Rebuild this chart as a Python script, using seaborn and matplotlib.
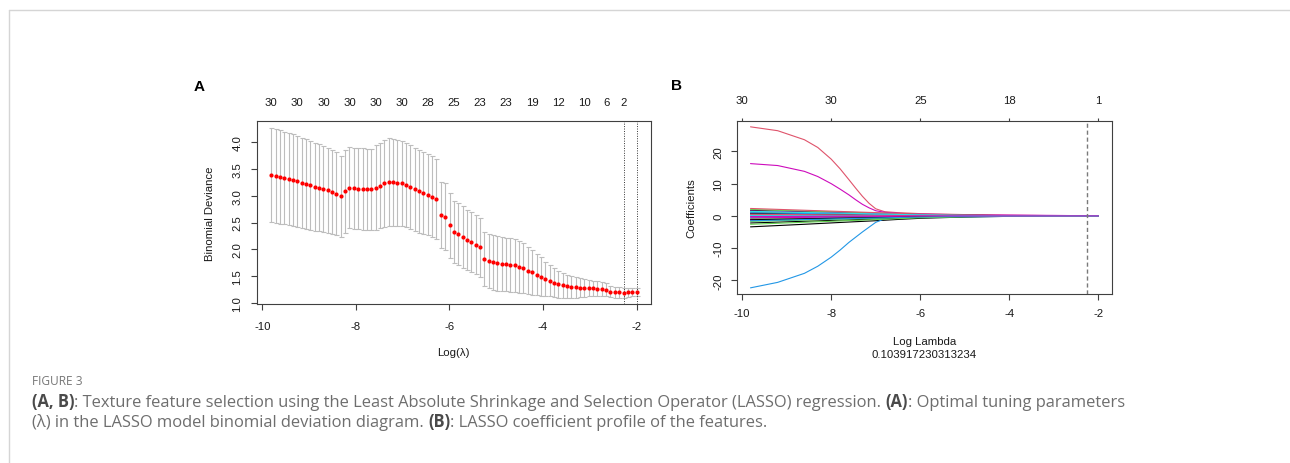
import numpy as np
import pandas as pd
import matplotlib
matplotlib.use("Agg")
import matplotlib.pyplot as plt
from matplotlib.lines import Line2D
import seaborn as sns

# ---------------- data: panel A (cross-validation curve) ----------------
log_lambda = [
    -9.810, -9.717, -9.624, -9.531, -9.438, -9.345, -9.252, -9.159, -9.066, -8.973,
    -8.880, -8.787, -8.694, -8.601, -8.508, -8.415, -8.322, -8.229, -8.136, -8.043,
    -7.950, -7.857, -7.764, -7.671, -7.578, -7.485, -7.392, -7.299, -7.206, -7.113,
    -7.020, -6.927, -6.834, -6.741, -6.648, -6.555, -6.462, -6.369, -6.276, -6.183,
    -6.090, -5.997, -5.904, -5.811, -5.718, -5.625, -5.532, -5.439, -5.346, -5.253,
    -5.160, -5.067, -4.974, -4.881, -4.788, -4.695, -4.602, -4.509, -4.416, -4.323,
    -4.230, -4.137, -4.044, -3.951, -3.858, -3.765, -3.672, -3.579, -3.486, -3.393,
    -3.300, -3.207, -3.114, -3.021, -2.928, -2.835, -2.742, -2.649, -2.556, -2.463,
    -2.370, -2.277, -2.184, -2.091, -1.998,
]
cv_mean = [
    3.39, 3.37, 3.35, 3.33, 3.31, 3.29, 3.27, 3.24, 3.22, 3.20,
    3.17, 3.15, 3.13, 3.10, 3.07, 3.04, 2.99, 3.08, 3.15, 3.14,
    3.135, 3.13, 3.12, 3.12, 3.15, 3.19, 3.23, 3.26, 3.25, 3.24,
    3.23, 3.20, 3.16, 3.12, 3.08, 3.05, 3.02, 2.98, 2.94, 2.64,
    2.61, 2.45, 2.32, 2.28, 2.23, 2.18, 2.13, 2.09, 2.04, 1.82,
    1.78, 1.76, 1.74, 1.73, 1.72, 1.71, 1.70, 1.67, 1.65, 1.60,
    1.57, 1.53, 1.49, 1.45, 1.41, 1.38, 1.35, 1.33, 1.31, 1.30,
    1.29, 1.285, 1.28, 1.275, 1.27, 1.265, 1.26, 1.25, 1.21, 1.20,
    1.195, 1.19, 1.195, 1.20, 1.20,
]
cv_sd = [
    0.88, 0.875, 0.87, 0.865, 0.86, 0.855, 0.85, 0.845, 0.84, 0.83,
    0.82, 0.81, 0.80, 0.79, 0.78, 0.77, 0.76, 0.77, 0.76, 0.76,
    0.76, 0.76, 0.76, 0.76, 0.79, 0.80, 0.81, 0.815, 0.81, 0.81,
    0.80, 0.79, 0.785, 0.78, 0.77, 0.765, 0.76, 0.755, 0.75, 0.62,
    0.62, 0.61, 0.58, 0.58, 0.57, 0.56, 0.56, 0.55, 0.55, 0.50,
    0.50, 0.51, 0.51, 0.50, 0.50, 0.50, 0.49, 0.48, 0.47, 0.44,
    0.42, 0.39, 0.36, 0.32, 0.29, 0.27, 0.25, 0.23, 0.21, 0.20,
    0.19, 0.18, 0.165, 0.155, 0.145, 0.135, 0.125, 0.115, 0.105, 0.10,
    0.095, 0.09, 0.085, 0.08, 0.08,
]
lambda_min_log = -2.277
lambda_1se_log = -1.998
nzero_at = [-9.810, -9.252, -8.694, -8.136, -7.578, -7.020, -6.462, -5.904,
            -5.346, -4.788, -4.230, -3.672, -3.114, -2.649, -2.277]
nzero_labels = ["30", "30", "30", "30", "30", "30", "28", "25",
                "23", "23", "19", "12", "10", "6", "2"]
a_xticks = [-10, -8, -6, -4, -2]
a_yticks = [1.0, 1.5, 2.0, 2.5, 3.0, 3.5, 4.0]

# ---------------- data: panel B (coefficient paths) ----------------
big_knots = [-9.81, -9.2, -8.6, -8.3, -8.0, -7.8, -7.6, -7.45, -7.3, -7.15,
             -7.0, -6.8, -6.5, -6.0, -5.0, -4.0, -3.0, -2.26, -2.0]
coef_big = {
    2: [27.6, 26.4, 23.6, 21.2, 17.6, 14.6, 11.2, 8.6, 6.1, 3.9,
        2.2, 1.3, 1.0, 0.7, 0.4, 0.2, 0.08, 0.0, 0.0],
    4: [-22.3, -20.6, -17.8, -15.6, -12.8, -10.6, -8.2, -6.6, -5.0, -3.5,
        -2.0, -0.9, -0.6, -0.45, -0.3, -0.15, -0.05, 0.0, 0.0],
    6: [16.2, 15.6, 13.8, 12.2, 10.0, 8.3, 6.5, 5.0, 3.6, 2.5,
        1.6, 1.1, 0.8, 0.55, 0.35, 0.25, 0.15, 0.05, 0.0],
}
small_knots = [-9.81, -8.6, -7.6, -7.0, -6.5, -6.0, -5.0, -4.0, -3.0, -2.0]
coef_small = {
    1: [-3.4, -2.6, -1.9, -1.5, -1.1, -0.75, -0.35, -0.14, -0.04, 0.0],
    3: [1.2, 0.9, 0.67, 0.53, 0.4, 0.26, 0.12, 0.0, 0.0, 0.0],
    5: [0.6, 0.46, 0.34, 0.26, 0.2, 0.0, 0.0, 0.0, 0.0, 0.0],
    7: [1.7, 1.3, 0.95, 0.75, 0.56, 0.37, 0.17, 0.07, 0.02, 0.0],
    8: [-1.4, -1.06, -0.78, -0.62, -0.46, -0.31, -0.14, -0.05, 0.0, 0.0],
    9: [2.0, 1.52, 1.12, 0.88, 0.66, 0.44, 0.2, 0.08, 0.02, 0.0],
    10: [-0.3, -0.23, -0.17, -0.13, -0.08, 0.0, 0.0, 0.0, 0.0, 0.0],
    11: [0.2, 0.15, 0.11, 0.09, 0.05, 0.0, 0.0, 0.0, 0.0, 0.0],
    12: [-1.1, -0.84, -0.62, -0.48, -0.36, -0.24, -0.11, 0.0, 0.0, 0.0],
    13: [-2.2, -1.67, -1.23, -0.97, -0.73, -0.48, -0.22, -0.09, -0.02, 0.0],
    14: [0.9, 0.68, 0.5, 0.4, 0.3, 0.2, 0.09, 0.0, 0.0, 0.0],
    15: [-0.8, -0.61, -0.45, -0.35, -0.26, -0.18, -0.08, 0.0, 0.0, 0.0],
    16: [0.4, 0.3, 0.22, 0.18, 0.13, 0.09, 0.04, 0.0, 0.0, 0.0],
    17: [-0.5, -0.38, -0.28, -0.22, -0.17, -0.11, -0.05, 0.0, 0.0, 0.0],
    18: [1.5, 1.14, 0.84, 0.66, 0.5, 0.33, 0.15, 0.06, 0.0, 0.0],
    19: [0.8, 0.61, 0.45, 0.35, 0.26, 0.18, 0.08, 0.0, 0.0, 0.0],
    20: [2.3, 1.75, 1.29, 1.01, 0.76, 0.5, 0.23, 0.09, 0.02, 0.0],
    21: [-1.7, -1.3, -0.95, -0.75, -0.56, -0.37, -0.17, -0.07, -0.01, 0.0],
    22: [1.0, 0.76, 0.56, 0.44, 0.33, 0.22, 0.1, 0.03, 0.0, 0.0],
    23: [0.1, 0.08, 0.06, 0.04, 0.02, 0.0, 0.0, 0.0, 0.0, 0.0],
    24: [-0.6, -0.46, -0.34, -0.26, -0.2, -0.13, -0.06, 0.0, 0.0, 0.0],
    25: [-1.2, -0.91, -0.67, -0.53, -0.4, -0.26, -0.12, -0.04, 0.0, 0.0],
    26: [0.5, 0.38, 0.28, 0.22, 0.17, 0.11, 0.05, 0.0, 0.0, 0.0],
    27: [-2.6, -1.98, -1.46, -1.14, -0.86, -0.57, -0.26, -0.1, -0.03, 0.0],
    28: [-1.5, -1.14, -0.84, -0.66, -0.5, -0.33, -0.15, -0.05, 0.0, 0.0],
    29: [1.4, 1.06, 0.78, 0.62, 0.46, 0.31, 0.14, 0.05, 0.0, 0.0],
    30: [-0.2, -0.15, -0.11, -0.09, -0.05, 0.0, 0.0, 0.0, 0.0, 0.0],
}
r_palette = ["#000000", "#DF536B", "#61D04F", "#2297E6", "#28E2E5", "#CD0BBC"]
b_xticks = [-10, -8, -6, -4, -2]
b_top_labels = ["30", "30", "25", "18", "1"]
b_yticks = [-20, -10, 0, 10, 20]
chosen_lambda = 0.103917230313234

# ---------------- style ----------------
sns.set_theme(style="white")
plt.rcParams["font.family"] = ["Liberation Sans", "DejaVu Sans"]
FS = 8.2
INK = "#1a1a1a"
SPINE = "#404040"

W, H = 1290, 464
fig = plt.figure(figsize=(W / 100, H / 100), dpi=100)
fig.patch.set_facecolor("white")


def px_box(l, t, r, b):
    return [l / W, 1 - b / H, (r - l) / W, (b - t) / H]


def style_axes(ax, xpad, ypad):
    for s in ax.spines.values():
        s.set_visible(True)
        s.set_color(SPINE)
        s.set_linewidth(0.8)
    ax.tick_params(axis="both", direction="out", length=4.6, width=0.8,
                   color=SPINE, labelsize=FS, labelcolor=INK,
                   bottom=True, left=True)
    ax.tick_params(axis="x", pad=xpad)
    ax.tick_params(axis="y", pad=ypad)
    ax.grid(False)
    ax.set_facecolor("white")


# ---------------- panel A ----------------
axA = fig.add_axes(px_box(256.7, 122.3, 651, 305))
cv_df = pd.DataFrame({"log_lambda": log_lambda, "cvm": cv_mean, "cvsd": cv_sd})
axA.errorbar(cv_df["log_lambda"], cv_df["cvm"], yerr=cv_df["cvsd"], fmt="none",
             ecolor="#BDBDBD", elinewidth=0.8, capsize=1.8, capthick=0.8, zorder=1)
sns.scatterplot(data=cv_df, x="log_lambda", y="cvm", color="#FF0000", s=9,
                linewidth=0, ax=axA, zorder=3)
for v in (lambda_min_log, lambda_1se_log):
    axA.axvline(v, color="#333333", lw=0.7, ls=(0, (1, 1.5)), zorder=2)
axA.set_xlim(-10.12, -1.69)
axA.set_ylim(0.98, 4.39)
axA.set_xticks(a_xticks)
axA.set_xticklabels([str(t) for t in a_xticks])
axA.set_yticks(a_yticks)
axA.set_yticklabels([f"{t:.1f}" for t in a_yticks], rotation=90, va="center")
style_axes(axA, xpad=7.6, ypad=5.7)
axA.set_xlabel("Log(\u03bb)", fontsize=FS, color=INK)
axA.xaxis.set_label_coords(0.498, -0.261)
axA.xaxis.label.set_va("center")
axA.set_ylabel("Binomial Deviance", fontsize=FS, color=INK, va="center")
axA.yaxis.set_label_coords(-0.1185, 0.5)

topA = axA.secondary_xaxis("top")
topA.set_xticks(nzero_at, labels=nzero_labels)
topA.tick_params(length=0, pad=10.6, labelsize=FS, labelcolor=INK)
topA.spines["top"].set_visible(False)

fig.text(199 / W, 1 - 87 / H, "A", fontsize=11, fontweight="bold",
         ha="center", va="center", color="black")

# ---------------- panel B ----------------
axB = fig.add_axes(px_box(736.7, 121.7, 1112.3, 295.3))
rows = []
for var in range(1, 31):
    if var in coef_big:
        knots, vals = big_knots, coef_big[var]
    else:
        knots, vals = small_knots, coef_small[var]
    for k, c in zip(knots, vals):
        rows.append({"var": f"V{var}", "log_lambda": k, "coef": c})
coef_df = pd.DataFrame(rows)
order = [f"V{v}" for v in range(1, 31)]
pal = {f"V{v}": r_palette[(v - 1) % 6] for v in range(1, 31)}
sns.lineplot(data=coef_df, x="log_lambda", y="coef", hue="var", hue_order=order,
             palette=pal, estimator=None, sort=False, legend=False, lw=0.8, ax=axB)
axB.axvline(np.log(chosen_lambda), color="#7a7a7a", lw=1.0, ls=(0, (3, 2)))
axB.set_xlim(-10.12, -1.69)
axB.set_ylim(-24.3, 29.5)
axB.set_xticks(b_xticks)
axB.set_xticklabels([str(t) for t in b_xticks])
axB.set_yticks(b_yticks)
axB.set_yticklabels([str(t) for t in b_yticks], rotation=90, va="center")
style_axes(axB, xpad=5.6, ypad=5.1)
axB.set_xlabel("Log Lambda", fontsize=FS, color=INK)
axB.xaxis.set_label_coords(0.5, -0.271)
axB.xaxis.label.set_va("center")
axB.text(0.5, -0.344, f"{chosen_lambda}", transform=axB.transAxes, fontsize=FS,
         color=INK, ha="center", va="center")
axB.set_ylabel("Coefficients", fontsize=FS, color=INK, va="center")
axB.yaxis.set_label_coords((691.7 - 736.7) / 375.6, 0.5)

topB = axB.secondary_xaxis("top")
topB.set_xticks(b_xticks, labels=b_top_labels)
topB.tick_params(direction="out", length=2.5, width=0.8, color=SPINE, pad=8.6,
                 labelsize=FS, labelcolor=INK)
topB.spines["top"].set_visible(False)

fig.text(676 / W, 1 - 86 / H, "B", fontsize=11, fontweight="bold",
         ha="center", va="center", color="black")

# ---------------- page frame ----------------
fig.add_artist(Line2D([9 / W, 1.0], [1 - 11 / H, 1 - 11 / H],
                      transform=fig.transFigure, color="#D5D5D5", lw=1.0))
fig.add_artist(Line2D([9 / W, 9 / W], [0.0, 1 - 11 / H],
                      transform=fig.transFigure, color="#D5D5D5", lw=1.0))

# ---------------- caption ----------------
CAP_FONT = ["Open Sans", "DejaVu Sans"]
CAP_FS = 11.9
renderer = fig.canvas.get_renderer()


def measure(txt, bold):
    t = fig.text(0, 0, txt, fontsize=CAP_FS, family=CAP_FONT,
                 fontweight="bold" if bold else "normal")
    w = t.get_window_extent(renderer).width
    t.remove()
    return w


space_w = measure("x x", False) - measure("xx", False)


def rich_line(x_px, base_px, parts):
    x = x_px
    for txt, bold in parts:
        if txt == " ":
            x += space_w
            continue
        t = fig.text(x / W, 1 - base_px / H, txt, fontsize=CAP_FS, family=CAP_FONT,
                     fontweight="bold" if bold else "normal",
                     color="#4a4a4a" if bold else "#6e6e6e",
                     ha="left", va="baseline")
        x += t.get_window_extent(renderer).width


fig.text(32 / W, 1 - 385 / H, "FIGURE 3", fontsize=8.6, family=CAP_FONT,
         color="#777777", ha="left", va="baseline")
rich_line(32, 407.3, [
    ("(A, B)", True),
    (": Texture feature selection using the Least Absolute Shrinkage and "
     "Selection Operator (LASSO) regression.", False),
    (" ", False),
    ("(A)", True),
    (": Optimal tuning parameters", False),
])
rich_line(32, 426.7, [
    ("(\u03bb) in the LASSO model binomial deviation diagram.", False),
    (" ", False),
    ("(B)", True),
    (": LASSO coefficient profile of the features.", False),
])

fig.savefig("out.png", dpi=100, facecolor="white")
